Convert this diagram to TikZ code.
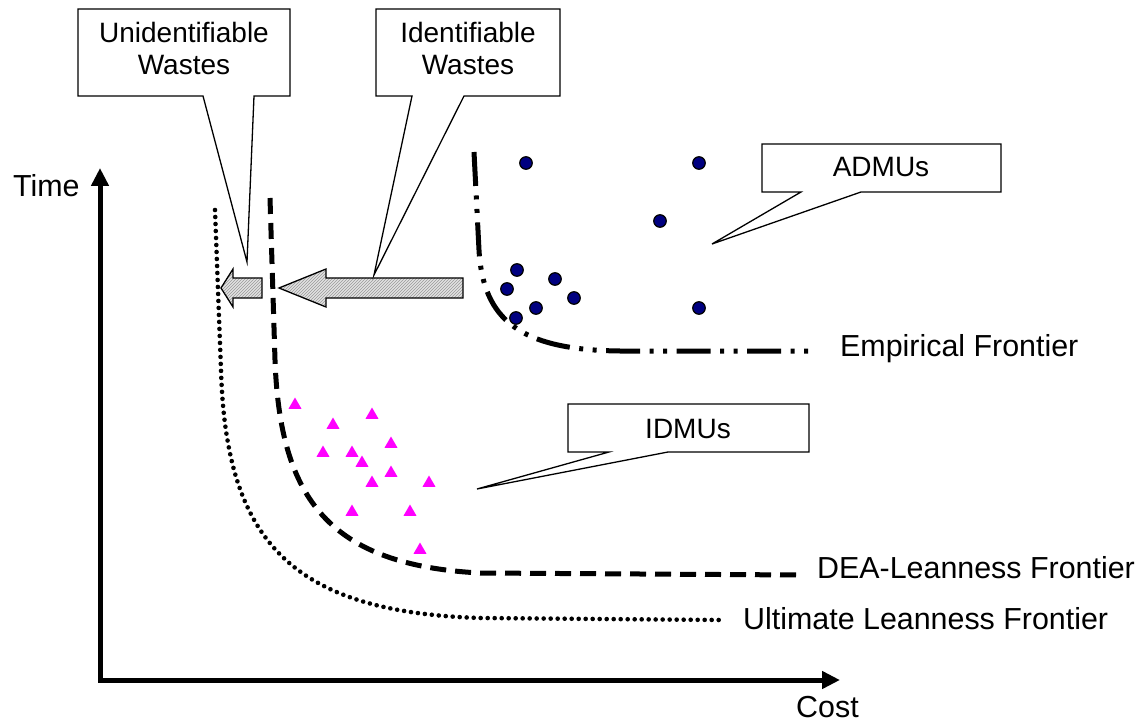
\documentclass[tikz,border=0pt]{standalone}
\usepackage{fontspec}
\setmainfont{Liberation Sans}
\usetikzlibrary{arrows.meta,patterns,shapes.geometric}
\definecolor{dmunavy}{HTML}{000080}
\definecolor{idmupink}{HTML}{FF00FF}
\begin{document}
\begin{tikzpicture}[x=1pt,y=-1pt,
  axis/.style={line width=5pt, line join=miter,
    {Triangle[length=18pt,width=17pt]}-{Triangle[length=18pt,width=17pt]}},
  calloutline/.style={draw=black, fill=white, line width=1.3pt, line join=miter},
  boxtext/.style={font=\fontsize{28}{32}\selectfont, align=center, inner sep=0pt},
  labeltext/.style={font=\fontsize{30.4}{34}\selectfont, inner sep=0pt, anchor=base west},
  ultimate/.style={line width=4.6pt, line cap=round, dash pattern=on 0pt off 7pt},
  dealine/.style={line width=5pt, dash pattern=on 16pt off 9pt},
  empirical/.style={line width=5pt,
    dash pattern=on 34pt off 9.5pt on 4pt off 9.5pt on 4pt off 9.5pt},
  wastearrow/.style={draw=black, line width=1.3pt, line join=miter,
    preaction={fill=gray!22}, pattern=north east lines, pattern color=gray!80},
  admu/.style={circle, draw=black, line width=1.2pt, fill=dmunavy,
    minimum size=12.5pt, inner sep=0pt},
  idmu/.style={regular polygon, regular polygon sides=3, fill=idmupink,
    minimum size=15pt, inner sep=0pt}
]
\useasboundingbox (0,0) rectangle (1141,722);

% axes
\coordinate (org) at (100,680);
\coordinate (ytip) at (100,168);
\coordinate (xtip) at (840,680);
\draw[axis] (ytip) -- (org) -- (xtip);
\node[labeltext] (timelbl) at (13,197) {Time};
\node[labeltext] (costlbl) at (796,717) {Cost};

% frontiers
\draw[ultimate] (215,210) -- (221,370) .. controls (226,540) and (290,612) .. (480,618) -- (720,620);
\draw[dealine] (270,198) -- (275,360) .. controls (280,500) and (330,565) .. (480,573) -- (800,575);
\draw[empirical] (474,152) -- (479,250) .. controls (483,320) and (520,350) .. (620,351) -- (808,351);

\node[labeltext] (emplbl) at (840,356) {Empirical Frontier};
\node[labeltext] (dealbl) at (817,578) {DEA-Leanness Frontier};
\node[labeltext] (ultlbl) at (743,629) {Ultimate Leanness Frontier};

% waste arrows
\draw[wastearrow] (463,278) -- (326,278) -- (326,269) -- (279,288) -- (326,307)
  -- (326,298) -- (463,298) -- cycle;
\draw[wastearrow] (262,278) -- (233,278) -- (233,269) -- (221,288) -- (233,307)
  -- (233,298) -- (262,298) -- cycle;

% actual DMUs
\foreach \x/\y [count=\i] in {526/163, 699/163, 660/221, 517/270, 555/279,
    507/289, 574/298, 536/308, 516/318, 699/308}
  \node[admu] (a\i) at (\x,\y) {};

% ideal DMUs
\foreach \x/\y [count=\i] in {295/405, 333/425, 372/415, 391/444, 323/453,
    352/453, 362/463, 391/473, 372/483, 429/483, 352/512, 410/512, 420/550}
  \node[idmu] (t\i) at (\x,\y) {};

% callouts
\coordinate (uwtip) at (247,262);
\coordinate (iwtip) at (374,275);
\coordinate (admutip) at (712,244);
\coordinate (idmutip) at (477,489);

\draw[calloutline] (78,9) -- (290,9) -- (290,96) -- (254,96) -- (uwtip)
  -- (203,96) -- (78,96) -- cycle;
\node[boxtext] (uwtext) at (184,48.8) {Unidentifiable\\Wastes};

\draw[calloutline] (376,9) -- (560,9) -- (560,96) -- (464,96) -- (iwtip)
  -- (412,96) -- (376,96) -- cycle;
\node[boxtext] (iwtext) at (468,48.8) {Identifiable\\Wastes};

\draw[calloutline] (762,144) -- (1001,144) -- (1001,192) -- (861,192) -- (admutip)
  -- (801,192) -- (762,192) -- cycle;
\node[boxtext, anchor=base] (admutext) at (881,177) {ADMUs};

\draw[calloutline] (568,404) -- (809,404) -- (809,452) -- (668,452) -- (idmutip)
  -- (609,452) -- (568,452) -- cycle;
\node[boxtext, anchor=base] (idmutext) at (688,438) {IDMUs};
\end{tikzpicture}
\end{document}
